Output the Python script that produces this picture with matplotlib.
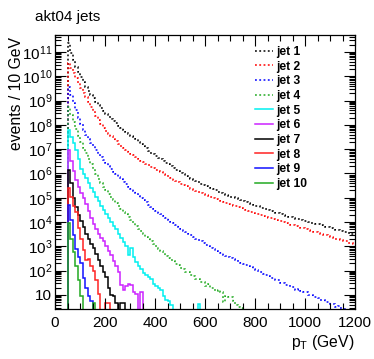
import numpy as np
import matplotlib
matplotlib.use("Agg")
import matplotlib.pyplot as plt
from matplotlib.lines import Line2D
from matplotlib.ticker import FixedLocator, FixedFormatter, MultipleLocator

plt.rcParams['font.family'] = ['Liberation Sans', 'DejaVu Sans']
plt.rcParams['mathtext.fontset'] = 'custom'
plt.rcParams['mathtext.rm'] = 'Liberation Sans'
plt.rcParams['mathtext.it'] = 'Liberation Sans:italic'
plt.rcParams['mathtext.bf'] = 'Liberation Sans:bold'

# 10 GeV bins from 0 to 1200 GeV; contents given as log10(events), starting at the 50 GeV bin
# None = empty bin
bin_width = 10
pt_start = 50
pt_max = 1200

jet1 = [11.35, 10.95, 10.65, 10.40, 10.17, 9.96, 9.76, 9.57, 9.40, 9.24,
        9.09, 8.95, 8.82, 8.69, 8.57, 8.46, 8.35, 8.25, 8.15, 8.06,
        7.97, 7.88, 7.80, 7.72, 7.64, 7.56, 7.49, 7.40, 7.31, 7.22,
        7.12, 7.03, 6.94, 6.85, 6.78, 6.72, 6.65, 6.58, 6.51, 6.44,
        6.37, 6.30, 6.23, 6.16, 6.10, 6.03, 5.96, 5.89, 5.82, 5.77,
        5.73, 5.68, 5.63, 5.58, 5.54, 5.49, 5.44, 5.39, 5.35, 5.30,
        5.25, 5.21, 5.17, 5.13, 5.09, 5.05, 5.01, 4.98, 4.94, 4.90,
        4.86, 4.83, 4.78, 4.75, 4.70, 4.66, 4.64, 4.59, 4.56, 4.53,
        4.49, 4.45, 4.43, 4.38, 4.36, 4.31, 4.28, 4.25, 4.21, 4.19,
        4.17, 4.13, 4.11, 4.09, 4.05, 4.03, 4.01, 3.97, 3.95, 3.93,
        3.90, 3.87, 3.85, 3.81, 3.78, 3.76, 3.72, 3.69, 3.67, 3.63,
        3.60, 3.58, 3.54, 3.51, 3.49]

jet2 = [10.55, 10.32, 10.12, 9.92, 9.72, 9.52, 9.33, 9.13, 8.93, 8.74,
        8.55, 8.37, 8.20, 8.04, 7.89, 7.75, 7.64, 7.53, 7.43, 7.33,
        7.23, 7.14, 7.05, 6.97, 6.89, 6.82, 6.74, 6.67, 6.60, 6.53,
        6.46, 6.40, 6.34, 6.28, 6.22, 6.16, 6.10, 6.04, 5.98, 5.92,
        5.86, 5.80, 5.75, 5.69, 5.64, 5.58, 5.53, 5.48, 5.43, 5.38,
        5.33, 5.29, 5.24, 5.20, 5.15, 5.11, 5.07, 5.03, 4.99, 4.95,
        4.91, 4.87, 4.83, 4.79, 4.75, 4.72, 4.68, 4.64, 4.60, 4.57,
        4.53, 4.49, 4.46, 4.43, 4.39, 4.35, 4.33, 4.28, 4.25, 4.22,
        4.18, 4.15, 4.12, 4.08, 4.05, 4.03, 3.99, 3.95, 3.93, 3.89,
        3.86, 3.84, 3.79, 3.76, 3.74, 3.70, 3.67, 3.64, 3.60, 3.58,
        3.54, 3.52, 3.47, 3.46, 3.41, 3.38, 3.36, 3.31, 3.29, 3.25,
        3.22, 3.20, 3.15, 3.12, 3.09]

jet3 = [9.55, 9.22, 8.90, 8.60, 8.30, 8.03, 7.80, 7.60, 7.42, 7.26,
        7.11, 6.96, 6.82, 6.68, 6.55, 6.42, 6.29, 6.17, 6.06, 5.96,
        5.86, 5.76, 5.66, 5.56, 5.46, 5.36, 5.27, 5.18, 5.09, 5.00,
        4.90, 4.81, 4.72, 4.63, 4.54, 4.46, 4.39, 4.31, 4.24, 4.17,
        4.09, 4.02, 3.94, 3.87, 3.80, 3.72, 3.65, 3.58, 3.51, 3.45,
        3.39, 3.32, 3.26, 3.20, 3.14, 3.07, 3.01, 2.95, 2.88, 2.82,
        2.76, 2.71, 2.66, 2.61, 2.56, 2.51, 2.47, 2.42, 2.37, 2.32,
        2.27, 2.24, 2.19, 2.15, 2.07, 2.04, 1.95, 1.94, 1.85, 1.84,
        1.78, 1.70, 1.71, 1.60, 1.60, 1.50, 1.50, 1.40, 1.42, 1.33,
        1.32, 1.22, 1.24, 1.15, 1.10, 1.10, 1.00, 1.01, 0.93, 0.92,
        0.86, 0.80, 0.80, 0.70, 0.72, 0.62, 0.62, 0.52, 0.55, 0.46,
        0.44]

jet4 = [8.72, 8.40, 8.10, 7.82, 7.55, 7.30, 7.06, 6.83, 6.60, 6.38,
        6.17, 5.97, 5.79, 5.62, 5.46, 5.31, 5.17, 5.04, 4.91, 4.79,
        4.67, 4.55, 4.43, 4.31, 4.19, 4.07, 3.96, 3.85, 3.73, 3.62,
        3.51, 3.40, 3.30, 3.20, 3.10, 3.00, 2.90, 2.80, 2.71, 2.62,
        2.53, 2.43, 2.39, 2.27, 2.24, 2.10, 2.08, 1.95, 1.93, 1.80,
        1.78, 1.65, 1.66, 1.52, 1.55, 1.38, 1.45, 1.28, 1.30, 1.15,
        1.22, 1.10, 0.70, 0.95, 0.90, 0.93, 0.75, 0.60, 0.50, 0.45]

jet5 = [7.79, 7.52, 7.25, 6.95, 6.60, 6.20, 5.98, 5.80, 5.62, 5.42,
        5.25, 5.05, 4.85, 4.68, 4.50, 4.33, 4.18, 4.02, 3.85, 3.70,
        3.52, 3.35, 3.18, 3.02, 2.65, 2.95, 2.55, 2.35, 2.20, 2.05,
        1.92, 1.80, 1.75, 1.65, 1.45, 1.35, 1.30, 1.20, 0.95, 0.80,
        0.75, 0.60, None, None, None, None, None, None, None, None,
        None, None, 0.63]

jet6 = [6.97, 6.50, 6.10, 5.75, 5.45, 5.20, 4.98, 4.75, 4.45, 4.15,
        3.92, 3.70, 3.50, 3.33, 3.20, 3.00, 2.80, 2.65, 2.40, 2.20,
        1.95, 1.40, 1.20, 1.35, 1.45, 1.40, 1.10, 1.05, None, 1.10]

jet7 = [6.15, 5.60, 5.00, 4.60, 4.30, 4.05, 3.80, 3.50, 3.30, 3.10,
        2.95, 2.70, 2.45, 2.20, 1.95, 1.75, 1.30, 1.00, 0.95, 0.66,
        None, 0.66, 0.66]

jet8 = [5.39, 5.05, 4.65, 4.40, 3.75, 3.30, 2.85, 2.45, 2.48, 2.20,
        2.00, 1.60, 1.05, None, None, 0.65, 0.65]

jet9 = [4.70, 4.10, 3.45, 2.90, 2.55, 2.30, 1.70, 1.30, 0.95, 0.75]

jet10 = [3.95, 3.30, 2.75, 2.20, 1.60, 0.95, None, None, None, None, 0.65]

jets = [jet1, jet2, jet3, jet4, jet5, jet6, jet7, jet8, jet9, jet10]
labels = ['jet %d' % (i + 1) for i in range(10)]
colors = ['black', '#ff0000', '#0000ff', '#22aa22', '#00f0f0',
          '#cc22ff', 'black', '#ff2222', '#1111ff', '#22aa22']
styles = [(0, (1.2, 1.6))] * 4 + ['-'] * 6
widths = [1.1] * 4 + [1.1] * 6

edges = np.arange(0, pt_max + bin_width, bin_width)


def contents(logv):
    h = np.full(len(edges) - 1, 1e-3)
    i0 = pt_start // bin_width
    for k, v in enumerate(logv):
        if v is not None:
            h[i0 + k] = 10.0 ** v
    return h


fig = plt.figure(figsize=(3.74, 3.59), dpi=100)
ax = fig.add_axes([55 / 374, 1 - 309 / 359, 300 / 374, 274 / 359])

for j in range(len(jets)):
    ax.stairs(contents(jets[j]), edges, baseline=None, color=colors[j],
              linestyle=styles[j], linewidth=widths[j])

ax.set_yscale('log')
ax.set_xlim(0, pt_max)
ax.set_ylim(2.63, 5e11)

decades = list(range(1, 12))
ax.yaxis.set_major_locator(FixedLocator([10.0 ** d for d in decades]))
ax.yaxis.set_major_formatter(FixedFormatter(['10'] + ['$10^{%d}$' % d for d in decades[1:]]))
minors = [m * 10.0 ** d for d in range(0, 12) for m in range(2, 10)]
ax.yaxis.set_minor_locator(FixedLocator(minors))
ax.yaxis.set_minor_formatter(FixedFormatter([''] * len(minors)))

ax.xaxis.set_major_locator(MultipleLocator(200))
ax.xaxis.set_minor_locator(MultipleLocator(50))

ax.tick_params(which='both', direction='in', top=True, right=True, width=0.8)
ax.tick_params(which='major', length=8, labelsize=11)
ax.tick_params(which='minor', length=4)
ax.tick_params(axis='y', which='both', pad=2)
ax.tick_params(axis='x', which='both', pad=5)
for s in ax.spines.values():
    s.set_linewidth(0.9)

handles = [Line2D([], [], color=colors[j], linestyle=styles[j], linewidth=widths[j])
           for j in range(len(jets))]
leg = ax.legend(handles, labels, loc='upper left',
                bbox_to_anchor=((255 - 55) / 300, (309 - 46) / 274),
                frameon=False, borderpad=0, borderaxespad=0,
                handlelength=1.45, handletextpad=0.3, labelspacing=0.22,
                prop={'weight': 'bold', 'size': 8.7})

fig.text(35 / 374, 1 - 17 / 359, 'akt04 jets', fontsize=11, ha='left', va='center')
fig.text(17 / 374, 1 - 37 / 359, 'events / 10 GeV', fontsize=11.3,
         rotation=90, ha='center', va='top')
fig.text(355 / 374, 1 - 342 / 359, 'p$_{\\mathrm{T}}$ (GeV)', fontsize=11.3,
         ha='right', va='center')

fig.savefig('out.png', dpi=100)
